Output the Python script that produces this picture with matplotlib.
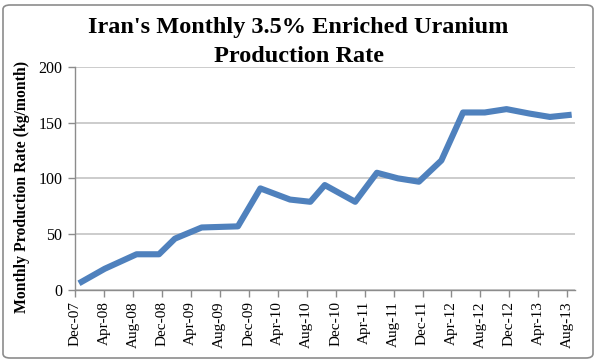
import matplotlib
matplotlib.use("Agg")
import matplotlib.pyplot as plt
from matplotlib.patches import FancyBboxPatch

# Data (x = months since Dec-2007)
months = [0.55, 4.1, 8.5, 11.6, 13.8, 17.5, 22.5, 25.6, 29.7, 32.5, 34.5,
          38.7, 41.7, 44.6, 47.5, 50.6, 53.6, 56.6, 59.6, 62.8, 65.6, 68.6]
rate = [6, 19, 32, 32, 46, 56, 57, 91, 81, 79, 94,
        79, 105, 100, 97, 116, 159, 159, 162, 158, 155, 157]
tick_labels = ["Dec-07", "Apr-08", "Aug-08", "Dec-08", "Apr-09", "Aug-09",
               "Dec-09", "Apr-10", "Aug-10", "Dec-10", "Apr-11", "Aug-11",
               "Dec-11", "Apr-12", "Aug-12", "Dec-12", "Apr-13", "Aug-13"]
tick_pos = [4 * i for i in range(len(tick_labels))]
y_ticks = [0, 50, 100, 150, 200]

serif = ["Liberation Serif", "DejaVu Serif"]

fig = plt.figure(figsize=(5.97, 3.61), dpi=100)
ax = fig.add_axes([75 / 597, 1 - 290 / 361, 500 / 597, (290 - 66.7) / 361])

ax.plot(months, rate, color="#4F81BD", lw=4.4, solid_joinstyle="round",
        solid_capstyle="butt", zorder=3)

ax.set_xlim(0, 69.06)
ax.set_ylim(0, 200)
ax.set_xticks(tick_pos)
ax.set_xticklabels(tick_labels, rotation=90, family=serif, fontsize=11)
ax.set_yticks(y_ticks)
ax.set_yticklabels([str(v) for v in y_ticks], family=serif, fontsize=11.5)

ax.grid(axis="y", color="#BEBEBE", lw=1.1)
ax.set_axisbelow(True)
for s in ["top", "right"]:
    ax.spines[s].set_visible(False)
for s in ["left", "bottom"]:
    ax.spines[s].set_color("#8C8C8C")
    ax.spines[s].set_linewidth(1.0)
ax.tick_params(axis="both", colors="#8C8C8C", length=5, width=1.0,
               labelcolor="black")
ax.tick_params(axis="y", pad=4)
ax.tick_params(axis="x", pad=3)

ax.set_ylabel("Monthly Production Rate (kg/month)", family=serif,
              fontsize=11.3, fontweight="bold")
ax.yaxis.set_label_coords(-0.09, 0.461)

fig.text(0.5, 1 - 28 / 361, "Iran's Monthly 3.5% Enriched Uranium",
         ha="center", va="center", family=serif, fontsize=17.5,
         fontweight="bold")
fig.text(0.5, 1 - 57 / 361, "Production Rate",
         ha="center", va="center", family=serif, fontsize=17.5,
         fontweight="bold")

border = FancyBboxPatch((3 / 597, 3 / 361), 590 / 597, 353 / 361,
                        boxstyle="round,pad=0,rounding_size=0.012",
                        transform=fig.transFigure, fill=False,
                        edgecolor="#8C8C8C", lw=1.2)
fig.patches.append(border)

fig.savefig("out.png", dpi=100)
